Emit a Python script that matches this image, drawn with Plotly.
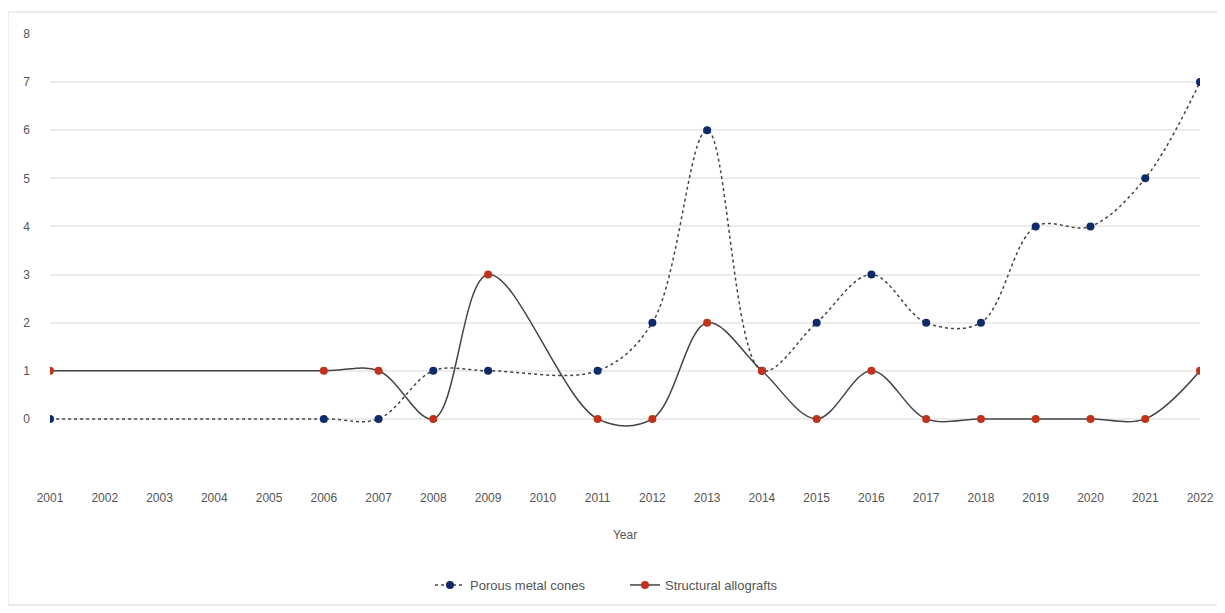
import plotly.graph_objects as go

all_years = [str(y) for y in range(2001, 2023)]
years = ["2001", "2006", "2007", "2008", "2009", "2011", "2012", "2013", "2014",
         "2015", "2016", "2017", "2018", "2019", "2020", "2021", "2022"]
porous_metal_cones = [0, 0, 0, 1, 1, 1, 2, 6, 1, 2, 3, 2, 2, 4, 4, 5, 7]
structural_allografts = [1, 1, 1, 0, 3, 0, 0, 2, 1, 0, 1, 0, 0, 0, 0, 0, 1]
y_ticks = list(range(0, 9))

# page body has an 8px margin, so the figure is sized/offset accordingly
W, H = 1217, 605
L, R, T, B = 42, 25, 26, 146

fig = go.Figure()
fig.add_trace(go.Scatter(
    x=years, y=porous_metal_cones, name="Porous metal cones",
    mode="lines+markers",
    line=dict(color="#444444", width=1.5, dash="dot", shape="spline", smoothing=1),
    marker=dict(color="#0d2a6b", size=8),
))
fig.add_trace(go.Scatter(
    x=years, y=structural_allografts, name="Structural allografts",
    mode="lines+markers",
    line=dict(color="#444444", width=1.5, shape="spline", smoothing=1),
    marker=dict(color="#c0321a", size=8),
))

pw = W - L - R
ph = H - T - B
fig.add_shape(type="rect", xref="paper", yref="paper",
              x0=(0 - L) / pw, x1=(1210 - L) / pw,
              y0=(H - B - 597) / ph, y1=(H - B - 4) / ph,
              line=dict(color="#e6e6e6", width=1.5), fillcolor="rgba(0,0,0,0)", layer="below")

fig.update_layout(
    width=W, height=H,
    margin=dict(l=L, r=R, t=T, b=B),
    paper_bgcolor="white", plot_bgcolor="white",
    font=dict(family="Liberation Sans, Arial, sans-serif", size=12, color="#555555"),
    xaxis=dict(type="category", categoryorder="array", categoryarray=all_years,
               range=[0, 21], showgrid=False, zeroline=False, showline=False,
               ticks="", ticklabelstandoff=22, tickfont=dict(size=12),
               title=dict(text="Year", standoff=26, font=dict(size=12, color="#555555"))),
    yaxis=dict(range=[-1, 8], tickvals=y_ticks, showgrid=True, gridcolor="#ececec",
               gridwidth=1.5, zeroline=False, showline=False, ticks="",
               ticklabelstandoff=19, tickfont=dict(size=12)),
    legend=dict(orientation="h", x=0.5, xanchor="center",
                y=(H - B - 577) / ph, yanchor="middle",
                entrywidth=150, entrywidthmode="pixels",
                font=dict(size=13, color="#555555")),
    showlegend=True,
)

fig.write_html("out.html")
